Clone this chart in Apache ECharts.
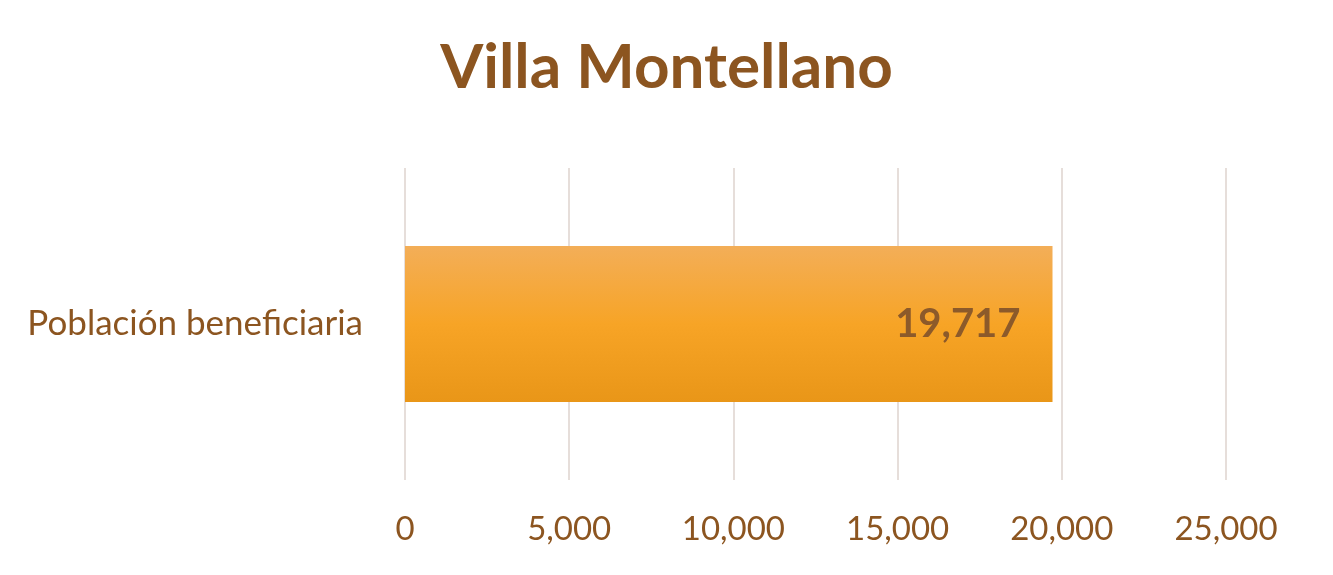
<!DOCTYPE html>
<html>
<head>
<meta charset="utf-8">
<script src="https://cdn.jsdelivr.net/npm/echarts@6/dist/echarts.min.js"></script>
<style>html,body{margin:0;padding:0;background:#fff;}#c{width:1333px;height:575px;}</style>
</head>
<body>
<div id="c"></div>
<script>
const title = 'Villa Montellano';
const categories = ['Población beneficiaria'];
const values = [19717];
const xTicks = [0, 5000, 10000, 15000, 20000, 25000];

const brown = '#8C5520';
const fmt = v => Number(v).toLocaleString('en-US');
const chart = echarts.init(document.getElementById('c'));
chart.setOption({
  backgroundColor: '#fff',
  animation: false,
  title: {
    text: title, left: 'center', top: 32,
    textStyle: {fontFamily: 'Lato', fontWeight: 'bold', fontSize: 62, color: brown}
  },
  grid: {left: 405, right: 107, top: 168, bottom: 95, containLabel: false},
  xAxis: {
    type: 'value', min: xTicks[0], max: xTicks[xTicks.length - 1], interval: xTicks[1] - xTicks[0],
    axisLine: {show: false}, axisTick: {show: false},
    splitLine: {show: true, lineStyle: {color: '#E6DEDA', width: 2}},
    axisLabel: {formatter: fmt, color: brown, fontFamily: 'Lato', fontSize: 33, margin: 33}
  },
  yAxis: {
    type: 'category', data: categories,
    axisLine: {show: false}, axisTick: {show: false},
    axisLabel: {color: brown, fontFamily: 'Lato', fontSize: 35, margin: 42}
  },
  series: [{
    type: 'bar', data: values, barCategoryGap: '50%',
    itemStyle: {
      color: new echarts.graphic.LinearGradient(0, 0, 0, 1, [
        {offset: 0, color: '#F3AE58'},
        {offset: 0.5, color: '#F7A426'},
        {offset: 1, color: '#E99618'}
      ])
    },
    label: {
      show: true, position: 'insideRight', distance: 32, formatter: p => fmt(p.value),
      color: '#8C5A2A', fontFamily: 'Lato', fontWeight: 'bold', fontSize: 40
    }
  }]
});
</script>
</body>
</html>
